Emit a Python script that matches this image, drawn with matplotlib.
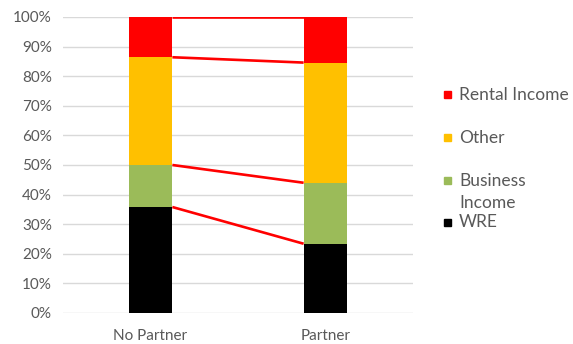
import matplotlib
matplotlib.use("Agg")
import matplotlib.pyplot as plt
from matplotlib.patches import Rectangle
import numpy as np

plt.rcParams['font.family'] = ['Lato', 'DejaVu Sans']

groups = ["No Partner", "Partner"]
series = ["WRE", "Business Income", "Other", "Rental Income"]
colors = ["#000000", "#9BBB59", "#FFC000", "#FF0000"]

# shares in percent, bottom to top
wre = [35.8, 23.4]
business = [14.2, 20.6]
other = [36.4, 40.6]
rental = [13.6, 15.4]

W, H = 573, 344
fig = plt.figure(figsize=(W / 100, H / 100), dpi=100)
ax = fig.add_axes([63 / W, 1 - 313 / H, 350 / W, 296 / H])

x = np.arange(len(groups))
bar_w = 0.25
bottom = np.zeros(len(groups))
tops = []
for vals, c in zip([wre, business, other, rental], colors):
    ax.bar(x, vals, bar_w, bottom=bottom, color=c, zorder=2)
    bottom = bottom + np.array(vals)
    tops.append(bottom.copy())

# connector lines between segment tops
for t in tops:
    ax.plot([x[0] + bar_w / 2, x[1] - bar_w / 2], t, color="#FF0000", lw=1.9, zorder=3,
            solid_capstyle="butt")

ax.set_xlim(-0.5, 1.5)
ax.set_ylim(0, 100)
ax.set_yticks(np.arange(0, 101, 10))
ax.set_yticklabels([f"{v}%" for v in range(0, 101, 10)])
ax.set_xticks(x)
ax.set_xticklabels(groups)
ax.yaxis.grid(True, color="#D9D9D9", lw=1.0, zorder=0)
ax.set_axisbelow(True)
for s in ax.spines.values():
    s.set_visible(False)
ax.tick_params(length=0, colors="#595959", labelsize=11)
ax.tick_params(axis="y", pad=8)
ax.tick_params(axis="x", pad=11.5)

# legend entries placed by hand (pixel positions of each text line)
legend_lines = {
    "Rental Income": [("Rental Income", 95)],
    "Other": [("Other", 138)],
    "Business Income": [("Business", 181), ("Income", 203)],
    "WRE": [("WRE", 222)],
}
for name, c in zip(series, colors):
    lines = legend_lines[name]
    yc = lines[0][1]
    fig.add_artist(Rectangle((444 / W, 1 - (yc + 3.5) / H), 7 / W, 7 / H,
                             transform=fig.transFigure, color=c))
    for txt, yl in lines:
        fig.text(459 / W, 1 - yl / H, txt, ha="left", va="center",
                 fontsize=12.5, color="#595959")

fig.savefig("out.png", dpi=100)
